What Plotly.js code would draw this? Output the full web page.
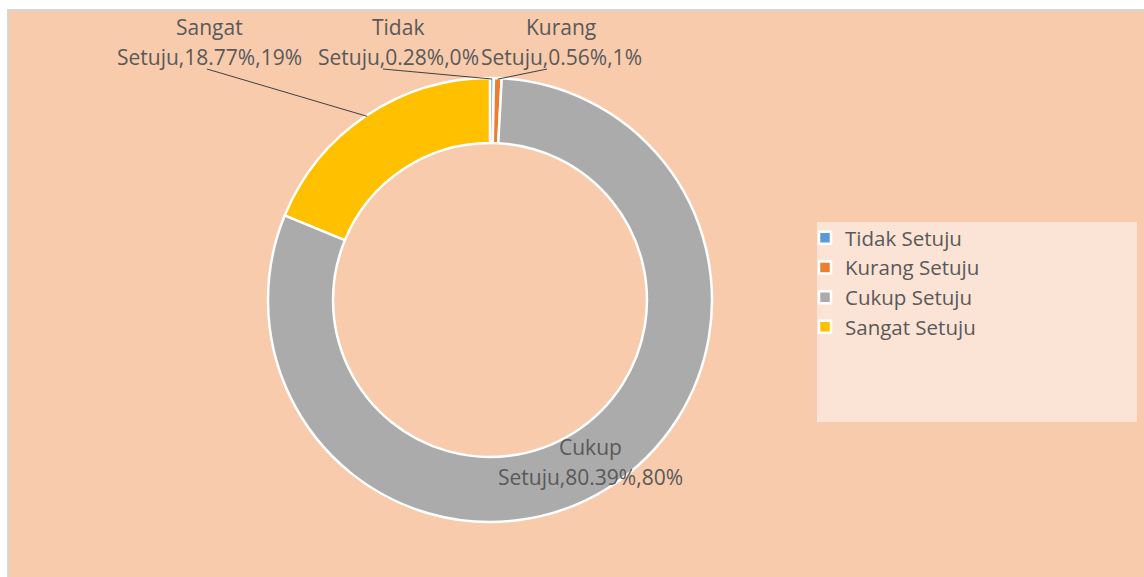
<!DOCTYPE html>
<html>
<head>
<meta charset="utf-8">
<script src="https://cdn.plot.ly/plotly-3.0.1.min.js"></script>
<style>
  html, body { margin: 0; padding: 0; background: #ffffff; width: 1144px; height: 577px; overflow: hidden; }
  #frame { position: absolute; left: 7px; top: 9px; width: 1137px; height: 568px;
           border-left: 2px solid #d6d6d6; border-top: 2px solid #d6d6d6; box-sizing: border-box; }
  #chart { position: absolute; left: 9px; top: 11px; width: 1135px; height: 566px; }
</style>
</head>
<body>
<div id="frame"></div>
<div id="chart"></div>
<script>
// ---- data ----
const categories = ["Tidak Setuju", "Kurang Setuju", "Cukup Setuju", "Sangat Setuju"];
const percentValues = [0.28, 0.56, 80.39, 18.77];
const roundedLabels = ["0%", "1%", "80%", "19%"];
const sliceColors = ["#5B9BD5", "#ED7D31", "#ABABAB", "#FFC000"];

// ---- geometry (plot div pixels) ----
const W = 1135, H = 566;
const CX = 481, CY = 289, R = 222;

function px(x) { return x / W; }
function py(y) { return 1 - y / H; }

const labelFont = { family: "Open Sans, Noto Sans, sans-serif", size: 21, color: "#595959" };

// label text positions (two lines each) and leader line starts, in div pixels
const labelPlaces = [
  { cx: 389, y1: 16, y2: 46, lx: 374, ly: 58, line: true },   // Tidak
  { cx: 552, y1: 16, y2: 46, lx: 538, ly: 58, line: true },   // Kurang
  { cx: 581, y1: 436, y2: 466, line: false },                 // Cukup
  { cx: 200, y1: 16, y2: 46, lx: 198, ly: 58, line: true }    // Sangat
];

const total = percentValues.reduce((a, b) => a + b, 0);
const annotations = [];
const shapes = [];

// legend background
shapes.push({
  type: "rect", xref: "paper", yref: "paper", layer: "below",
  x0: px(808), x1: px(1128), y0: py(411), y1: py(211),
  fillcolor: "#FBE4D5", line: { width: 0 }
});

let cum = 0;
categories.forEach((cat, i) => {
  const mid = (cum + percentValues[i] / 2) / total;
  cum += percentValues[i];
  const words = cat.split(" ");
  const line1 = words[0];
  const line2 = words.slice(1).join(" ") + "," + percentValues[i].toFixed(2) + "%," + roundedLabels[i];
  const p = labelPlaces[i];
  annotations.push({ xref: "paper", yref: "paper", x: px(p.cx), y: py(p.y1), text: line1,
    showarrow: false, xanchor: "center", yanchor: "middle", font: labelFont });
  annotations.push({ xref: "paper", yref: "paper", x: px(p.cx), y: py(p.y2), text: line2,
    showarrow: false, xanchor: "center", yanchor: "middle", font: labelFont });
  if (p.line) {
    const ang = mid * 2 * Math.PI;
    const ex = CX + (R - 1) * Math.sin(ang);
    const ey = CY - (R - 1) * Math.cos(ang);
    shapes.push({ type: "line", xref: "paper", yref: "paper",
      x0: px(p.lx), y0: py(p.ly), x1: px(ex), y1: py(ey),
      line: { color: "#404040", width: 1 } });
  }
});

const trace = {
  type: "pie",
  labels: categories,
  values: percentValues,
  sort: false,
  direction: "clockwise",
  rotation: 0,
  hole: 0.707,
  textinfo: "none",
  hoverinfo: "label+percent",
  marker: { colors: sliceColors, line: { color: "#ffffff", width: 2.5 } },
  domain: { x: [px(CX - R), px(CX + R)], y: [py(CY + R), py(CY - R)] }
};

const layout = {
  width: W, height: H,
  margin: { l: 0, r: 0, t: 0, b: 0 },
  paper_bgcolor: "#F7CBAC",
  showlegend: true,
  legend: {
    x: px(796), xanchor: "left", y: py(207), yanchor: "top",
    bgcolor: "rgba(0,0,0,0)",
    font: { family: "Open Sans, Noto Sans, sans-serif", size: 20.5, color: "#595959" },
    traceorder: "normal"
  },
  annotations: annotations,
  shapes: shapes
};

Plotly.newPlot("chart", [trace], layout, { displayModeBar: false, staticPlot: true });
</script>
</body>
</html>
